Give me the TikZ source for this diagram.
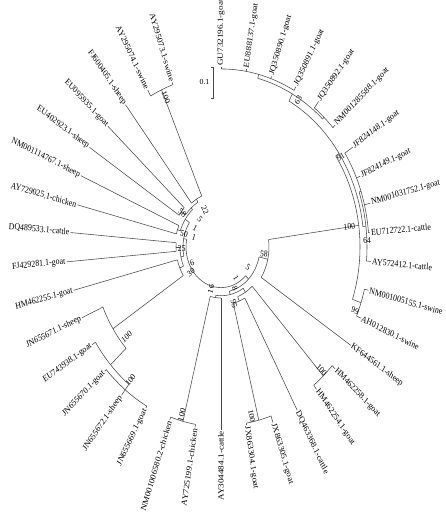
\documentclass[tikz,border=0pt]{standalone}
\usepackage{fontspec}
\setmainfont{Liberation Serif}
\newcommand{\TArc}[3]{\draw[br] (#2:#1) arc[start angle=#2, end angle=#3, radius=#1pt];}
\newcommand{\TLine}[3]{\draw[br] (#1:#2) -- (#1:#3);}
\newcommand{\LeafR}[5]{\TLine{#2}{#3}{#4}\node[lab, rotate=#2, anchor=west] (#1) at (#2:#4) {#5};}
\newcommand{\LeafL}[5]{\TLine{#2}{#3}{#4}\node[lab, rotate=#2+180, anchor=east] (#1) at (#2:#4) {#5};}
\newcommand{\Supp}[5]{\node[bs, rotate=#4] (#1) at ({#2-221},{(247-#3)/1.16}) {#5};}
\begin{document}
\begin{tikzpicture}[x=1pt,y=1pt,
  br/.style={draw=black!72, line width=0.55pt},
  lab/.style={font=\fontsize{7.9}{9}\selectfont, inner sep=1pt, transform shape},
  bs/.style={font=\fontsize{7.6}{9}\selectfont, inner sep=0pt, transform shape}]
\useasboundingbox (0,0) rectangle (446,-517);
\fill[white] (0,0) rectangle (446,-517);
\begin{scope}[shift={(221,-247)}, yscale=1.16]
% ---- internal branches ----
\TArc{35}{-45.1}{-190.9}
\TLine{-45.1}{35}{39} \TArc{39}{-12.7}{-77.6}
\TLine{-12.7}{39}{48} \TArc{48}{7.7}{-33.16}
\TLine{7.7}{48}{139} \TArc{139}{34.35}{-18.95}
\TLine{34.35}{139}{143} \TArc{143}{61.6}{7.1}
\TLine{61.6}{143}{150} \TArc{150}{75.8}{47.37}
\TLine{75.8}{150}{153.5} \TArc{153.5}{90}{61.58}
\TLine{47.37}{150}{152} \TArc{152}{52.11}{42.63}
\TLine{7.1}{143}{146} \TArc{146}{18.95}{-4.74}
\TLine{18.95}{146}{148} \TArc{148}{33.16}{4.74}
\TLine{-18.95}{139}{148} \TArc{148}{-14.21}{-23.68}
\TLine{-77.6}{39}{42} \TArc{42}{-58}{-97.1}
\TLine{-58}{42}{46} \TArc{46}{-47.37}{-68.7}
\TLine{-47.37}{46}{151} \TArc{151}{-42.63}{-52.11}
\TLine{-68.7}{46}{50} \TArc{50}{-61.58}{-75.8}
\TLine{-75.8}{50}{154} \TArc{154}{-71.05}{-80.53}
\TLine{-97.1}{42}{44} \TArc{44}{-90}{-104.2}
\TLine{-104.2}{44}{155} \TArc{155}{-99.47}{-108.95}
\TLine{169.1}{35}{38} \TArc{38}{191.9}{146.3}
\TLine{191.9}{38}{41} \TArc{41}{203.7}{180}
\TLine{180}{41}{45} \TArc{45}{184.74}{175.26}
\TLine{203.7}{41}{45} \TArc{45}{194.21}{213.1}
\TLine{213.1}{45}{129} \TArc{129}{203.68}{222.6}
\TLine{222.6}{129}{150} \TArc{150}{213.16}{232.1}
\TLine{232.1}{150}{156} \TArc{156}{222.63}{241.58}
\TLine{146.3}{38}{43} \TArc{43}{161.05}{131.5}
\TLine{161.05}{43}{46} \TArc{46}{165.79}{156.32}
\TLine{131.5}{43}{45} \TArc{45}{142.1}{120.8}
\TLine{142.1}{45}{50} \TArc{50}{146.84}{137.37}
\TLine{120.8}{45}{48} \TArc{48}{127.89}{113.7}
\TLine{113.7}{48}{148} \TArc{148}{118.42}{108.95}
% ---- leaves ----
\LeafR{l1}{90}{153.5}{155}{GU732196.1-goat}
\LeafR{l2}{80.53}{153.5}{155.5}{EU888137.1-goat}
\LeafR{l3}{71.05}{153.5}{155.5}{JQ350890.1-goat}
\LeafR{l4}{61.58}{153.5}{157}{JQ350891.1-goat}
\LeafR{l5}{52.11}{152}{159}{JQ350892.1-goat}
\LeafR{l6}{42.63}{152}{155}{NM001285588.1-goat}
\LeafR{l7}{33.16}{148}{157.5}{JF824148.1-goat}
\LeafR{l8}{23.68}{148}{152}{JF824149.1-goat}
\LeafR{l9}{14.21}{148}{154}{NM001031752.1-goat}
\LeafR{l10}{4.74}{148}{149.5}{EU712722.1-cattle}
\LeafR{l11}{-4.74}{146}{150.5}{AY572412.1-cattle}
\LeafR{l12}{-14.21}{148}{152}{NM001005155.1-swine}
\LeafR{l13}{-23.68}{148}{152.5}{AH012830.1-swine}
\LeafR{l14}{-33.16}{48}{155}{KF644561.1-sheep}
\LeafR{l15}{-42.63}{151}{155}{HM462258.1-goat}
\LeafR{l16}{-52.11}{151}{155.5}{HM462254.1-goat}
\LeafR{l17}{-61.58}{50}{160}{DQ463368.1-cattle}
\LeafR{l18}{-71.05}{154}{160}{JX863305.1-goat}
\LeafR{l19}{-80.53}{154}{155.5}{JX863304.1-goat}
\LeafL{l20}{-90}{44}{157.5}{AY304484.1-cattle}
\LeafL{l21}{-99.47}{155}{157.5}{AY725199.1-chicken}
\LeafL{l22}{-108.95}{155}{157.5}{NM001006580.2-chicken}
\LeafL{l23}{-118.42}{156}{158}{JN655669.1-goat}
\LeafL{l24}{-127.89}{156}{162}{JN655672.1-sheep}
\LeafL{l25}{-137.37}{156}{158}{JN655670.1-goat}
\LeafL{l26}{-146.84}{150}{154}{EU743938.1-goat}
\LeafL{l27}{-156.32}{129}{152}{JN655671.1-sheep}
\LeafL{l28}{-165.79}{45}{152}{HM462255.1-goat}
\LeafL{l29}{-175.26}{45}{155}{FJ429281.1-goat}
\LeafL{l30}{175.26}{45}{151}{DQ489533.1-cattle}
\LeafL{l31}{165.79}{46}{148}{AY729025.1-chicken}
\LeafL{l32}{156.32}{46}{153}{NM001114767.1-sheep}
\LeafL{l33}{146.84}{50}{157}{EU402923.1-sheep}
\LeafL{l34}{137.37}{50}{153.5}{EU095935.1-goat}
\LeafL{l35}{127.89}{48}{155.5}{FJ600405.1-sheep}
\LeafL{l36}{118.42}{148}{154}{AY295074.1-swine}
\LeafL{l37}{108.95}{148}{150}{AY295073.1-swine}
% ---- support values ----
\Supp{s1}{298.3}{100}{58.6}{63}
\Supp{s2}{340.7}{156.7}{33}{91}
\Supp{s3}{349.3}{226.7}{7.8}{100}
\Supp{s4}{367}{240.5}{2.2}{64}
\Supp{s5}{355}{310.7}{-22.3}{99}
\Supp{s6}{264}{254}{-8}{58}
\Supp{s7}{248}{267}{-32.5}{5}
\Supp{s8}{236}{278}{-60.7}{1}
\Supp{s9}{235}{288}{-68.4}{8}
\Supp{s10}{234}{304}{-75.2}{95}
\Supp{s11}{211}{289}{74.6}{16}
\Supp{s12}{181.7}{415}{74.8}{100}
\Supp{s13}{251.7}{416}{-78.1}{100}
\Supp{s14}{321.7}{370}{-46.5}{100}
\Supp{s15}{130.5}{380}{51.7}{100}
\Supp{s16}{126.7}{336.7}{39.3}{100}
\Supp{s17}{191}{272.5}{36.7}{30}
\Supp{s18}{192}{263}{25.4}{6}
\Supp{s19}{181.7}{248.7}{2.2}{25}
\Supp{s20}{184}{234}{-16.8}{50}
\Supp{s21}{194}{237}{-17.7}{1}
\Supp{s22}{195}{228}{-32.2}{1}
\Supp{s23}{200}{219}{-49}{5}
\Supp{s24}{182.5}{213}{-37.3}{58}
\Supp{s25}{205}{210}{-63.4}{22}
\Supp{s26}{166}{97}{-67}{100}
\end{scope}
% ---- scale bar ----
\coordinate (sbt) at (213.5,-67);
\coordinate (sbb) at (213.5,-98);
\draw[br] ([xshift=-2.5pt]sbt) -- (sbt) -- (sbb) -- ([xshift=-2.5pt]sbb);
\node[font=\fontsize{7.8}{9}\selectfont, inner sep=0pt] (sbl) at (204.5,-81.5) {0.1};
\end{tikzpicture}
\end{document}
